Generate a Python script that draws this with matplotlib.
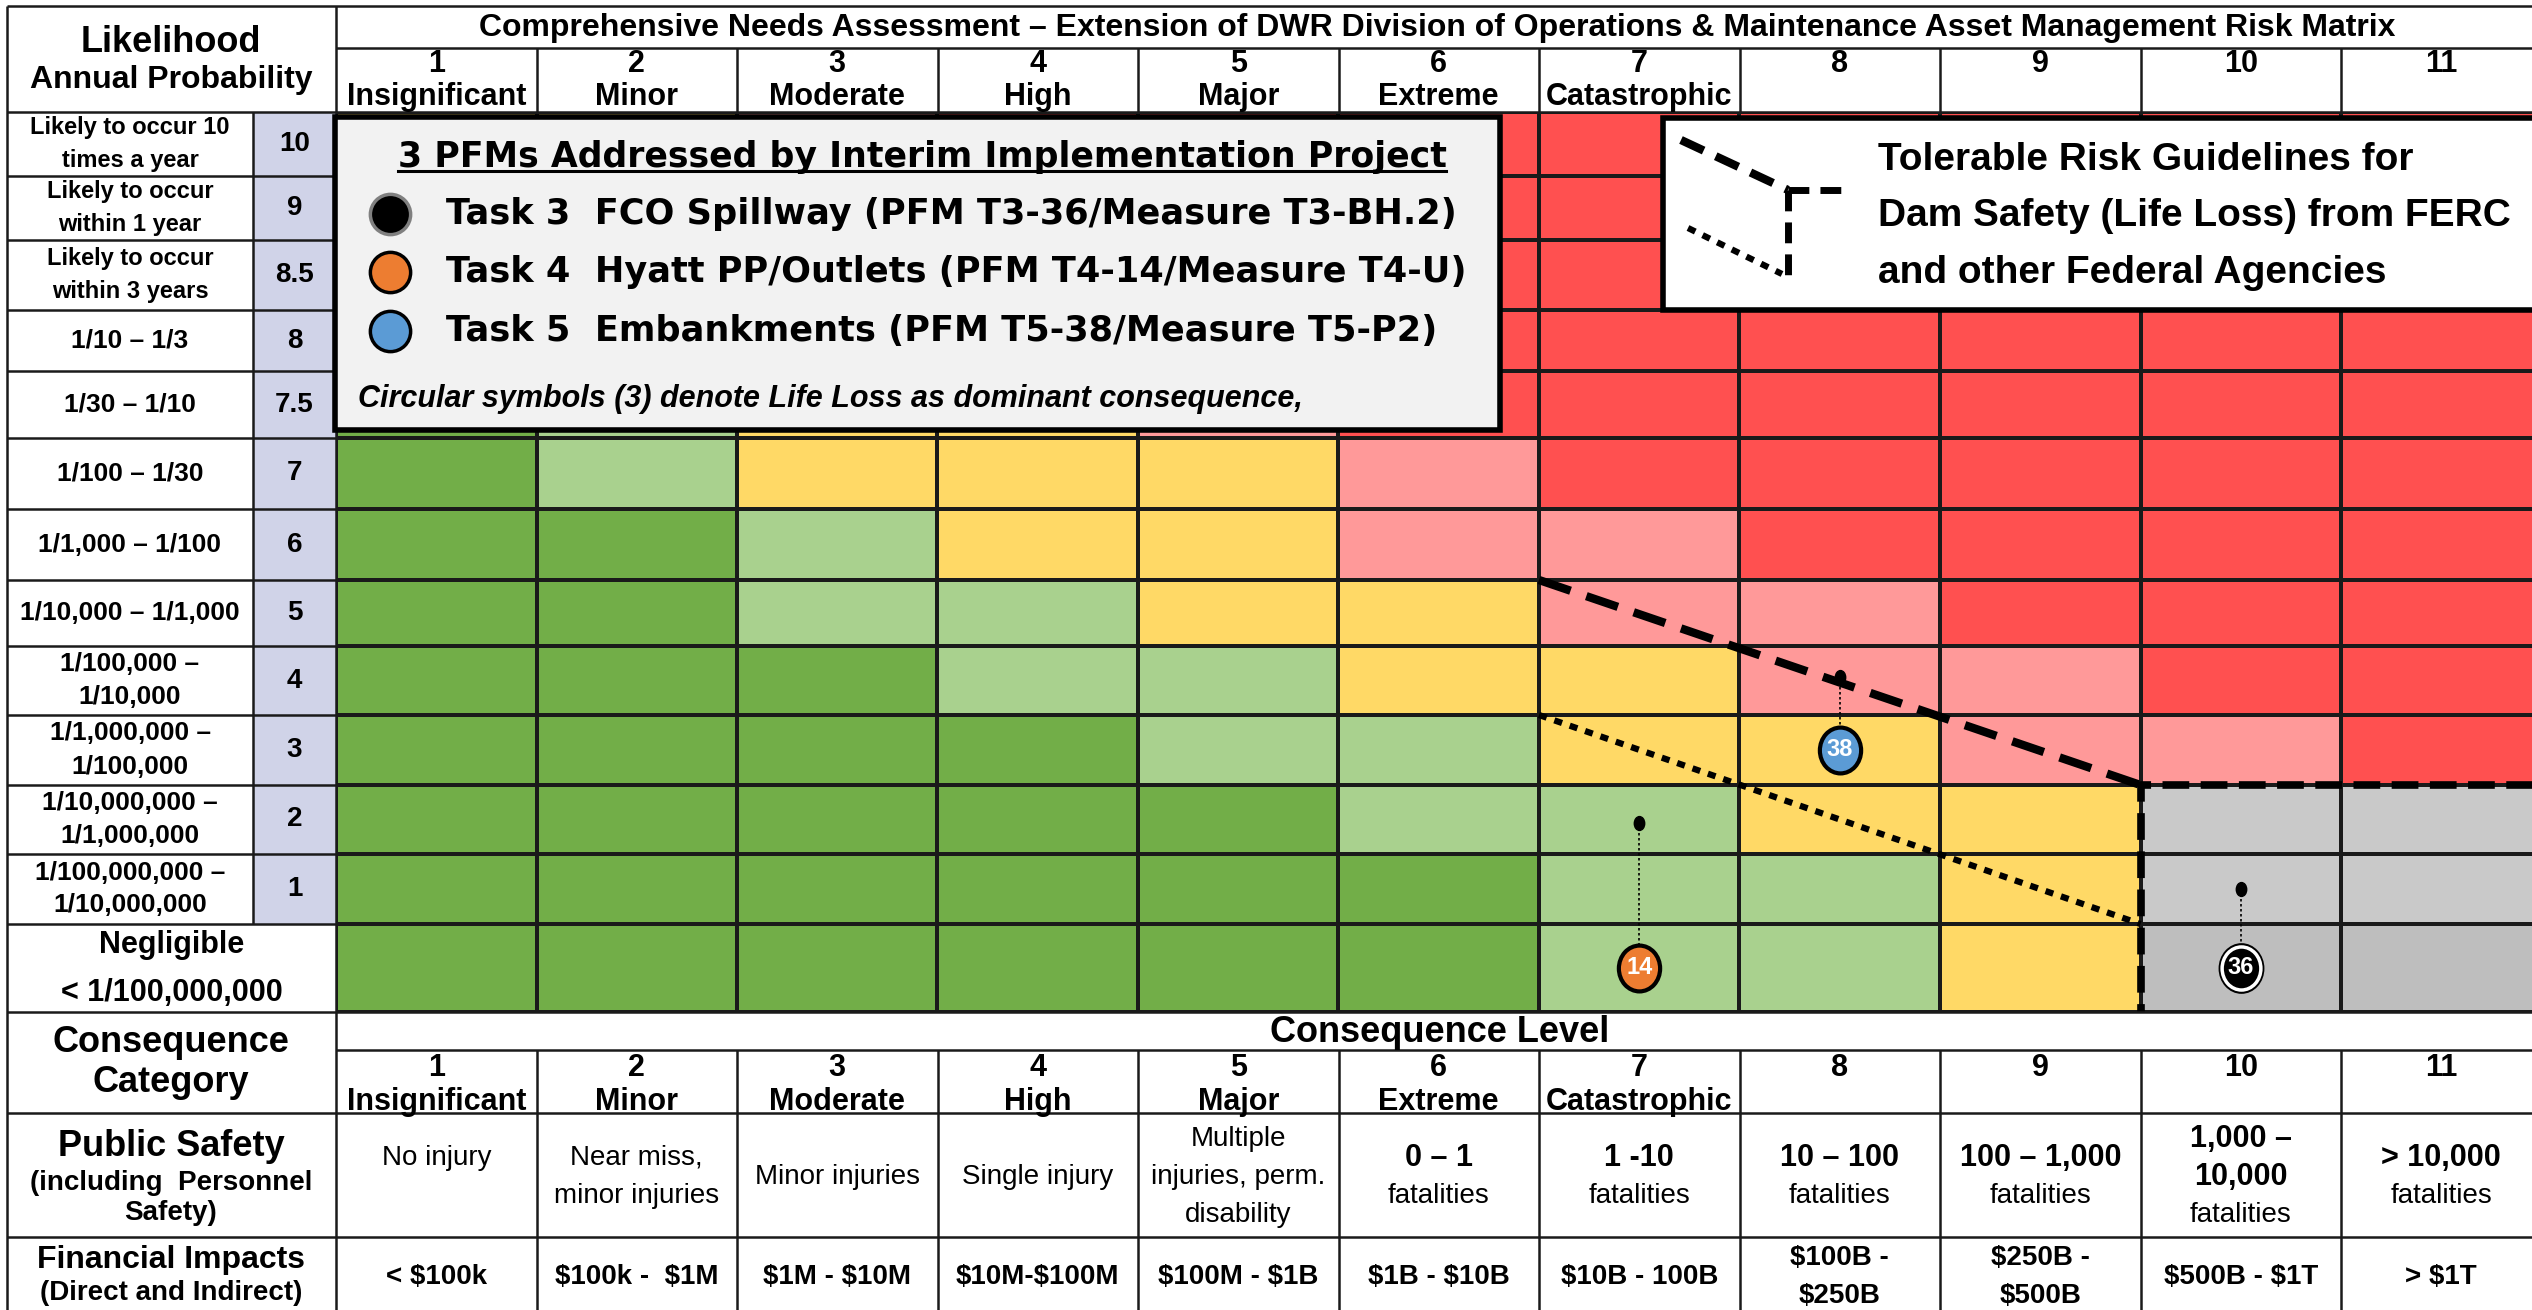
import numpy as np
import matplotlib
matplotlib.use('Agg')
import matplotlib.pyplot as plt
from matplotlib.colors import ListedColormap
from matplotlib.patches import Rectangle
from matplotlib.path import Path
from matplotlib.transforms import Affine2D

plt.rcParams['font.family'] = ['Liberation Sans', 'DejaVu Sans']
plt.rcParams['text.parse_math'] = False  # keep the $ signs literal

# ---------------- data ----------------
title = ('Comprehensive Needs Assessment \u2013 Extension of DWR Division of '
         'Operations & Maintenance Asset Management Risk Matrix')

# likelihood rows, top (10) to bottom (negligible)
likelihood_levels = ['10', '9', '8.5', '8', '7.5', '7', '6', '5', '4', '3', '2', '1', '']
likelihood_labels = [
    'Likely to occur 10\ntimes a year',
    'Likely to occur\nwithin 1 year',
    'Likely to occur\nwithin 3 years',
    '1/10 \u2013 1/3',
    '1/30 \u2013 1/10',
    '1/100 \u2013 1/30',
    '1/1,000 \u2013 1/100',
    '1/10,000 \u2013 1/1,000',
    '1/100,000 \u2013\n1/10,000',
    '1/1,000,000 \u2013\n1/100,000',
    '1/10,000,000 \u2013\n1/1,000,000',
    '1/100,000,000 \u2013\n1/10,000,000',
    'Negligible\n< 1/100,000,000',
]

conseq_numbers = ['1', '2', '3', '4', '5', '6', '7', '8', '9', '10', '11']
conseq_names = ['Insignificant', 'Minor', 'Moderate', 'High', 'Major', 'Extreme',
                'Catastrophic', '', '', '', '']
public_safety = ['No injury\n', 'Near miss,\nminor injuries', 'Minor injuries', 'Single injury',
                 'Multiple\ninjuries, perm.\ndisability', '0 \u2013 1\nfatalities',
                 '1 -10\nfatalities', '10 \u2013 100\nfatalities', '100 \u2013 1,000\nfatalities',
                 '1,000 \u2013\n10,000\nfatalities', '> 10,000\nfatalities']
# number of leading lines drawn bold in each public safety cell
safety_bold_lines = [0, 0, 0, 0, 0, 1, 1, 1, 1, 2, 1]
financial = ['< $100k', '$100k -  $1M', '$1M - $10M', '$10M-$100M', '$100M - $1B',
             '$1B - $10B', '$10B - 100B', '$100B -\n$250B', '$250B -\n$500B',
             '$500B - $1T', '> $1T']

# risk zone of every cell, rows top to bottom
# 0 green, 1 light green, 2 yellow, 3 pink, 4 red, 5 grey, 6 darker grey
zones = [
    [2, 2, 3, 4, 4, 4, 4, 4, 4, 4, 4],  # 10
    [2, 2, 3, 4, 4, 4, 4, 4, 4, 4, 4],  # 9
    [1, 2, 2, 3, 4, 4, 4, 4, 4, 4, 4],  # 8.5
    [1, 2, 2, 3, 4, 4, 4, 4, 4, 4, 4],  # 8
    [0, 1, 2, 2, 3, 4, 4, 4, 4, 4, 4],  # 7.5
    [0, 1, 2, 2, 2, 3, 4, 4, 4, 4, 4],  # 7
    [0, 0, 1, 2, 2, 3, 3, 4, 4, 4, 4],  # 6
    [0, 0, 1, 1, 2, 2, 3, 3, 4, 4, 4],  # 5
    [0, 0, 0, 1, 1, 2, 2, 3, 3, 4, 4],  # 4
    [0, 0, 0, 0, 1, 1, 2, 2, 3, 3, 4],  # 3
    [0, 0, 0, 0, 0, 1, 1, 2, 2, 5, 5],  # 2
    [0, 0, 0, 0, 0, 0, 1, 1, 2, 5, 5],  # 1
    [0, 0, 0, 0, 0, 0, 1, 1, 2, 6, 6],  # negligible
]

# PFMs: consequence level, likelihood row position (0 = negligible, 1 = level 1, ...)
pfm_ids = ['38', '14', '36']
pfm_conseq = [8, 7, 10]
pfm_like = [4.05, 1.95, 1.0]
pfm_label_like = [3.0, 0.0, 0.0]
pfm_colors = ['#5B9BD5', '#ED7D31', '#000000']
legend_entries = ['Task 3  FCO Spillway (PFM T3-36/Measure T3-BH.2)',
                  'Task 4  Hyatt PP/Outlets (PFM T4-14/Measure T4-U)',
                  'Task 5  Embankments (PFM T5-38/Measure T5-P2)']
legend_colors = ['#000000', '#ED7D31', '#5B9BD5']

# tolerable risk guidelines (consequence level, likelihood row position)
upper_x = [6.5, 9.5]
upper_y = [5.5, 2.5]
limit_x = [11.7, 9.5, 9.5]
limit_y = [2.5, 2.5, -0.5]
lower_x = [6.5, 9.5]
lower_y = [3.5, 0.5]

# ---------------- layout (pixels) ----------------
W, H = 2532, 1310
X_LEFT, X_SPLIT, X0, COL_W = 7, 253, 336, 200.5
Y_TOP, Y_TITLE, Y0 = 6, 48, 112
row_heights = [64, 64, 70, 61, 67, 71, 71, 66, 69, 70, 69, 70, 88]
Y1 = Y0 + sum(row_heights)
Y_CL, Y_HDR, Y_PS = 1050, 1113, 1237
LINE = '#1a1a1a'

zone_colors = ['#72AE48', '#A9D18E', '#FFD966', '#FF9999', '#FF5050', '#C9C9C9', '#BEBEBE']

fig = plt.figure(figsize=(W / 100, H / 100), dpi=100)
fig.patch.set_facecolor('white')

# ---------------- risk matrix ----------------
idx_edges = np.arange(len(row_heights) + 1) - 0.5
px_edges = np.concatenate([[0], np.cumsum(row_heights[::-1])]).astype(float)


def to_px(y):
    return np.interp(y, idx_edges, px_edges)


def from_px(p):
    return np.interp(p, px_edges, idx_edges)


mat_ax = fig.add_axes([X0 / W, 1 - Y1 / H, 11 * COL_W / W, (Y1 - Y0) / H], zorder=1)
mat_ax.set_yscale('function', functions=(to_px, from_px))
mat_ax.pcolormesh(np.arange(0.5, 12.5, 1.0), idx_edges, np.array(zones)[::-1],
                  cmap=ListedColormap(zone_colors), vmin=-0.5, vmax=6.5,
                  edgecolors=LINE, linewidth=1.5)
mat_ax.set_xlim(0.5, 11.5)
mat_ax.set_ylim(-0.5, 12.5)
mat_ax.axis('off')

mat_ax.plot(upper_x, upper_y, color='black', lw=6, linestyle=(0, (4, 2)), clip_on=False)
mat_ax.plot(limit_x, limit_y, color='black', lw=5.5, linestyle=(0, (3.5, 1.5)), clip_on=False)
mat_ax.plot(lower_x, lower_y, color='black', lw=4.5, linestyle=(0, (1.3, 1.3)), clip_on=False)

ellipse = Path.unit_circle().transformed(Affine2D().scale(0.9, 1.0))
dot = Path.unit_circle().transformed(Affine2D().scale(0.75, 1.0))
for pid, cx, cy, ly, col in zip(pfm_ids, pfm_conseq, pfm_like, pfm_label_like, pfm_colors):
    mat_ax.plot([cx, cx], [cy, ly], color='black', lw=1.2, linestyle=(0, (1.5, 1.5)))
    mat_ax.plot(cx, cy, marker=dot, ms=10, color='black')
    if col == '#000000':
        mat_ax.plot(cx, ly, marker=ellipse, ms=35, mfc='black', mec='black', mew=1.5)
        mat_ax.plot(cx, ly, marker=ellipse, ms=31, mfc='black', mec='white', mew=2.5)
    else:
        mat_ax.plot(cx, ly, marker=ellipse, ms=33, mfc=col, mec='black', mew=3)
    mat_ax.text(cx, ly, pid, color='white', ha='center', va='center',
                fontsize=17, fontweight='bold')

# ---------------- table around it ----------------
ax = fig.add_axes([0, 0, 1, 1], zorder=2)
ax.set_xlim(0, W)
ax.set_ylim(H, 0)
ax.axis('off')

row_edges = Y0 + np.concatenate([[0], np.cumsum(row_heights)])
row_mid = (row_edges[:-1] + row_edges[1:]) / 2
col_edges = X0 + COL_W * np.arange(12)
col_mid = (col_edges[:-1] + col_edges[1:]) / 2

# lavender level column
ax.add_patch(Rectangle((X_SPLIT, Y0), X0 - X_SPLIT, row_edges[-2] - Y0,
                       facecolor='#D0D3E8', edgecolor='none', zorder=0))

# grid lines
ax.hlines([Y_TOP, Y0, Y1, Y_HDR, Y_PS], X_LEFT, W, color=LINE, lw=1.8)
ax.hlines([Y_TITLE, Y_CL], X0, W, color=LINE, lw=1.8)
ax.hlines(row_edges[1:-1], X_LEFT, X0, color=LINE, lw=1.8)
ax.vlines([X_LEFT, X0], Y_TOP, H, color=LINE, lw=1.8)
ax.vlines(X_SPLIT, Y0, row_edges[-2], color=LINE, lw=1.8)
ax.vlines(col_edges[1:], Y_TITLE, Y0, color=LINE, lw=1.8)
ax.vlines(col_edges[1:], Y_CL, H, color=LINE, lw=1.8)


def text_block(x, yc, lines, gap, styles):
    n = len(lines)
    for i, (line, st) in enumerate(zip(lines, styles)):
        ax.text(x, yc + (i - (n - 1) / 2) * gap, line, ha='center', va='center', **st)


bold = dict(fontweight='bold')

ax.text((X0 + W) / 2 + 3, (Y_TOP + Y_TITLE) / 2 + 1, title, ha='center', va='center',
        fontsize=23, **bold)
ax.text(171, 42, 'Likelihood', ha='center', va='center', fontsize=26, **bold)
ax.text(171, 80, 'Annual Probability', ha='center', va='center', fontsize=23, **bold)

for k in range(11):
    for yn, yl in [(64, 97), (1068, 1102)]:
        ax.text(col_mid[k], yn, conseq_numbers[k], ha='center', va='center', fontsize=22, **bold)
        ax.text(col_mid[k], yl, conseq_names[k], ha='center', va='center', fontsize=22, **bold)

# likelihood labels
for i, (lab, lev) in enumerate(zip(likelihood_labels, likelihood_levels)):
    lines = lab.split('\n')
    if lev == '':
        text_block((X_LEFT + X0) / 2, row_mid[i] + 1, lines, 47, [dict(fontsize=22, **bold)] * 2)
        continue
    size = 17 if lab.startswith('Likely') else 19
    text_block((X_LEFT + X_SPLIT) / 2, row_mid[i], lines, 33, [dict(fontsize=size, **bold)] * 2)
    ax.text((X_SPLIT + X0) / 2, row_mid[i], lev, ha='center', va='center', fontsize=20, **bold)

# consequence category block
text_block(171, 1063, ['Consequence', 'Category'], 40, [dict(fontsize=26, **bold)] * 2)
ax.text((X0 + W) / 2 + 6, 1032, 'Consequence Level', ha='center', va='center', fontsize=26, **bold)
ax.text(171, 1147, 'Public Safety', ha='center', va='center', fontsize=26, **bold)
text_block(171, 1198, ['(including  Personnel', 'Safety)'], 31, [dict(fontsize=20, **bold)] * 2)
ax.text(171, 1260, 'Financial Impacts', ha='center', va='center', fontsize=23, **bold)
ax.text(171, 1293, '(Direct and Indirect)', ha='center', va='center', fontsize=20, **bold)

for k in range(11):
    lines = public_safety[k].split('\n')
    styles = [dict(fontsize=22, **bold) if j < safety_bold_lines[k] else dict(fontsize=20)
              for j in range(len(lines))]
    text_block(col_mid[k], 1177, lines, 38, styles)
    lines = financial[k].split('\n')
    text_block(col_mid[k], 1277, lines, 37, [dict(fontsize=20, **bold)] * len(lines))

# ---------------- legend boxes ----------------
ax.add_patch(Rectangle((335, 117), 1165, 313, facecolor='#F2F2F2', edgecolor='black',
                       lw=4, zorder=3))
legend_font = ['DejaVu Sans']
t = ax.text(922, 157, '3 PFMs Addressed by Interim Implementation Project', ha='center',
            va='center', fontsize=25, family=legend_font, zorder=4, **bold)
for y, lab, col in zip([214, 272, 331], legend_entries, legend_colors):
    ax.plot(390, y, 'o', ms=29, mfc=col, mec='#808080' if col == '#000000' else 'black',
            mew=2.5, zorder=4)
    ax.text(446, y, lab, ha='left', va='center', fontsize=25.3, family=legend_font,
            zorder=4, **bold)
ax.text(358, 399, 'Circular symbols (3) denote Life Loss as dominant consequence,',
        ha='left', va='center', fontsize=22, style='italic', zorder=4, **bold)

ax.add_patch(Rectangle((1663, 118), 900, 192, facecolor='white', edgecolor='black',
                       lw=4, zorder=3))
ax.plot([1681, 1788], [140, 190], color='black', lw=6, linestyle=(0, (3, 1.6)), zorder=4)
ax.plot([1788, 1845], [190, 190], color='black', lw=5, linestyle=(0, (3, 1.6)), zorder=4)
ax.plot([1788, 1788], [190, 277], color='black', lw=5, linestyle=(0, (3, 1.6)), zorder=4)
ax.plot([1688, 1782], [228, 274], color='black', lw=4.5, linestyle=(0, (1.3, 1.3)), zorder=4)
for y, line in zip([160, 216, 273], ['Tolerable Risk Guidelines for',
                                     'Dam Safety (Life Loss) from FERC',
                                     'and other Federal Agencies']):
    ax.text(1878, y, line, ha='left', va='center', fontsize=28, zorder=4, **bold)

# underline for the legend title
fig.canvas.draw()
bb = t.get_window_extent(fig.canvas.get_renderer())
(ux0, uy), (ux1, _) = ax.transData.inverted().transform([[bb.x0, bb.y0], [bb.x1, bb.y0]])
ax.plot([ux0, ux1], [uy - 3, uy - 3], color='black', lw=2.2, zorder=4)

fig.savefig('out.png', dpi=100, facecolor='white')
